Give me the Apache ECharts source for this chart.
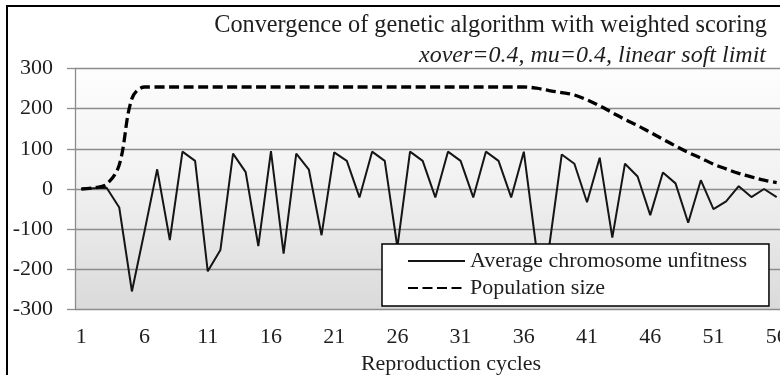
<!DOCTYPE html>
<html>
<head>
<meta charset="utf-8">
<script src="https://cdn.jsdelivr.net/npm/echarts@6/dist/echarts.min.js"></script>
<style>
  html, body { margin: 0; padding: 0; background: #fff; }
  #chart { width: 780px; height: 375px; }
</style>
</head>
<body>
<div id="chart"></div>
<script>
// Reproduction cycles 1..56
var cycles = [];
for (var c = 1; c <= 56; c++) cycles.push(String(c));

// Average chromosome unfitness per cycle
var unfitness = [0, 2, 3, -46, -255, -105, 49, -127, 93, 70,
                 -205, -152, 88, 42, -142, 94, -161, 88, 48, -115,
                 91, 70, -21, 93, 70, -145, 93, 70, -21, 93,
                 70, -21, 93, 70, -21, 93, -150, -145, 86, 63,
                 -33, 78, -121, 63, 31, -65, 41, 14, -84, 22,
                 -50, -31, 7, -20, 0, -20];

// Population size per cycle
var population = [0, 3, 12, 60, 225, 254, 254, 254, 254, 254,
                  254, 254, 254, 254, 254, 254, 254, 254, 254, 254,
                  254, 254, 254, 254, 254, 254, 254, 254, 254, 254,
                  254, 254, 254, 254, 254, 254, 251, 245, 240, 234,
                  222, 207, 190, 173, 158, 141, 124, 107, 91, 77,
                  62, 50, 39, 30, 22, 16];

var yTicks = { min: -300, max: 300, step: 100 };

var FONT = '"Liberation Serif", "Times New Roman", serif';
var chart = echarts.init(document.getElementById('chart'), null, { renderer: 'canvas' });

chart.setOption({
  backgroundColor: '#ffffff',
  animation: false,
  graphic: [{
    type: 'rect',
    z: 100,
    silent: true,
    shape: { x: 7, y: 6, width: 900, height: 500 },
    style: { fill: 'none', stroke: '#000', lineWidth: 2 }
  }],
  title: [{
    text: 'Convergence of genetic algorithm with weighted scoring',
    right: 8, top: 9,
    textStyle: { fontFamily: FONT, fontSize: 24.3, fontWeight: 'normal', color: '#1e1e1e' }
  }, {
    text: 'xover=0.4, mu=0.4, linear soft limit',
    right: 9, top: 39,
    textStyle: { fontFamily: FONT, fontSize: 24, fontStyle: 'italic', fontWeight: 'normal', color: '#1e1e1e' }
  }],
  grid: {
    left: 75, top: 68.5, width: 708, height: 241,
    outerBoundsMode: 'none',
    containLabel: false,
    show: true,
    borderWidth: 0,
    backgroundColor: {
      type: 'linear', x: 0, y: 0, x2: 0, y2: 1,
      colorStops: [
        { offset: 0, color: '#fdfdfd' },
        { offset: 0.45, color: '#f2f2f2' },
        { offset: 1, color: '#dadada' }
      ]
    }
  },
  legend: {
    orient: 'vertical',
    left: 382, top: 244,
    padding: [4, 22, 5, 25],
    backgroundColor: '#ffffff',
    borderColor: '#000',
    borderWidth: 1.5,
    itemWidth: 57,
    itemHeight: 14,
    itemGap: 1,
    itemStyle: { opacity: 0 },
    textStyle: { fontFamily: FONT, fontSize: 22, color: '#1e1e1e', lineHeight: 26 },
    data: ['Average chromosome unfitness', 'Population size']
  },
  xAxis: {
    type: 'category',
    data: cycles,
    boundaryGap: true,
    axisLine: { show: false, onZero: false },
    axisTick: { show: false },
    axisLabel: {
      interval: 4,
      margin: 17,
      hideOverlap: false,
      fontFamily: FONT, fontSize: 22, color: '#1e1e1e'
    },
    name: 'Reproduction cycles',
    nameLocation: 'middle',
    nameGap: 39,
    nameTextStyle: { fontFamily: FONT, fontSize: 22, color: '#1e1e1e', padding: [0, 0, 0, 44] },
    splitLine: { show: false }
  },
  yAxis: {
    type: 'value',
    min: yTicks.min, max: yTicks.max, interval: yTicks.step,
    axisLine: { show: true, lineStyle: { color: '#8c8c8c', width: 1.3 } },
    axisTick: { show: true, inside: false, length: 8, lineStyle: { color: '#8c8c8c', width: 1.3 } },
    axisLabel: { margin: 22, fontFamily: FONT, fontSize: 22, color: '#1e1e1e' },
    splitLine: { show: true, lineStyle: { color: '#8c8c8c', width: 1.3 } }
  },
  series: [{
    name: 'Average chromosome unfitness',
    type: 'line',
    data: unfitness,
    symbol: 'none',
    z: 3,
    lineStyle: { color: '#151515', width: 2 },
    itemStyle: { color: '#151515' }
  }, {
    name: 'Population size',
    type: 'line',
    data: population,
    symbol: 'none',
    smooth: 0.35,
    z: 4,
    lineStyle: { color: '#000', width: 3.3, type: [10, 4.5] },
    itemStyle: { color: '#000' }
  }]
});
</script>
</body>
</html>
